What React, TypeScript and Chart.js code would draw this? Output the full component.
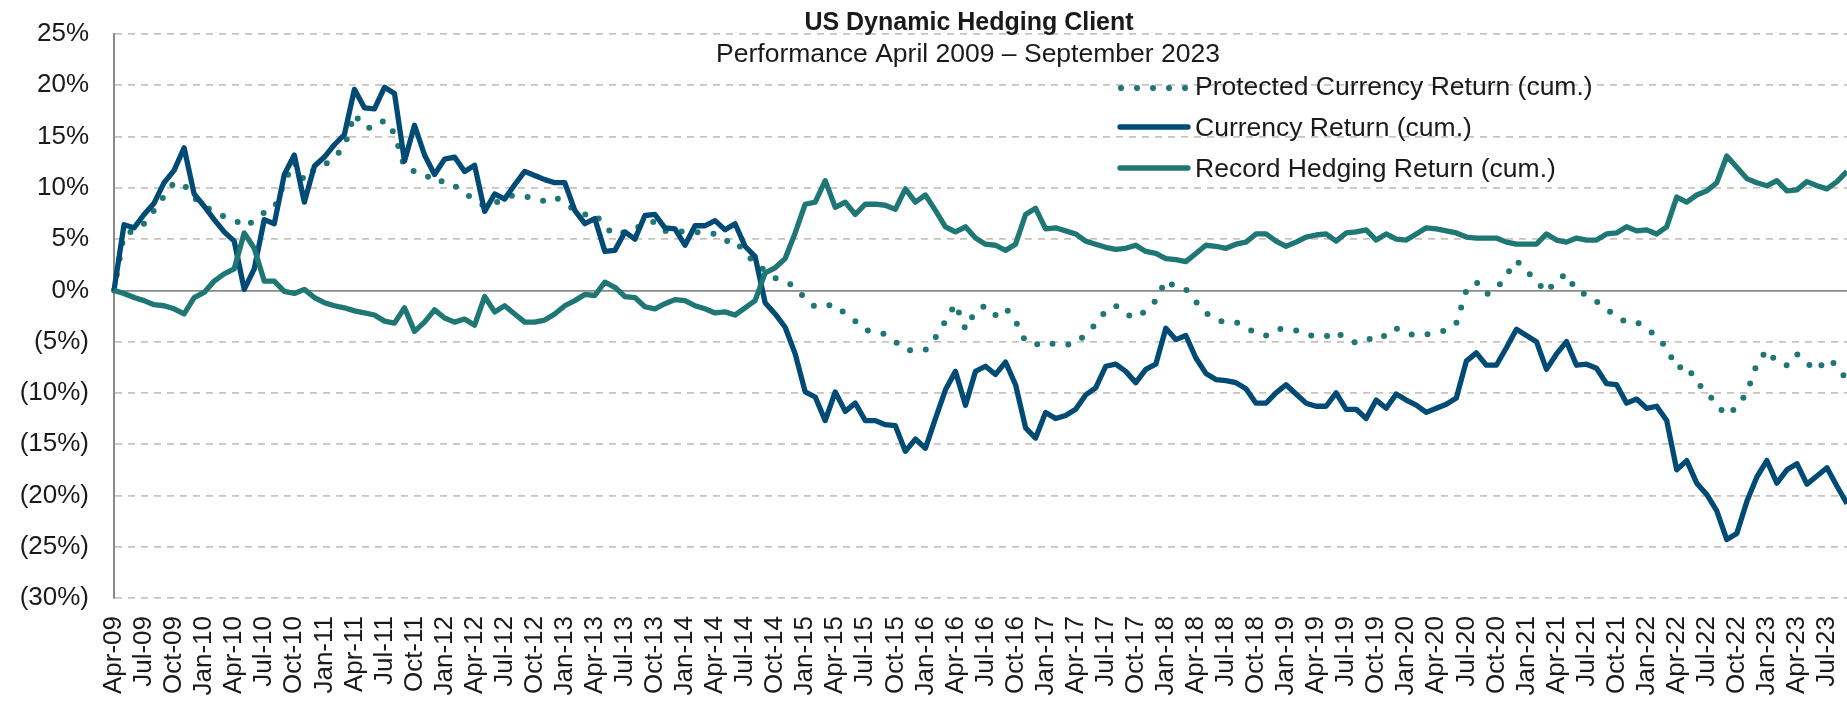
import React, { useEffect, useRef } from 'react';
import { Chart, registerables } from 'chart.js';

Chart.register(...registerables);

const FONT = '"Liberation Sans", Arial, sans-serif';

const TITLE = 'US Dynamic Hedging Client';
const SUBTITLE = 'Performance April 2009 \u2013 September 2023';

const MONTH_NAMES = ['Jan', 'Feb', 'Mar', 'Apr', 'May', 'Jun', 'Jul', 'Aug', 'Sep', 'Oct', 'Nov', 'Dec'];
const FIRST_MONTH = 3; // April
const FIRST_YEAR = 2009;
const MONTH_COUNT = 174; // Apr-09 .. Sep-23

const monthLabels: string[] = [];
for (let k = 0; k < MONTH_COUNT; k++) {
  const m = (FIRST_MONTH + k) % 12;
  const y = FIRST_YEAR + Math.floor((FIRST_MONTH + k) / 12);
  monthLabels.push(`${MONTH_NAMES[m]}-${String(y % 100).padStart(2, '0')}`);
}

const SERIES_NAMES = [
  'Protected Currency Return (cum.)',
  'Currency Return (cum.)',
  'Record Hedging Return (cum.)',
];

// Protected Currency Return (cum.), %
const protectedReturn = [
  0, 5.5, 5.8, 6.5, 7.8, 9.2, 10.5, 10.3, 9.0, 8.3, 7.6, 7.2,
  6.9, 6.2, 6.8, 7.6, 8.0, 10.5, 12.5, 10.7, 11.8, 12.2, 13.0, 14.0,
  17.2, 15.9, 15.8, 16.6, 15.3, 12.0, 11.6, 11.4, 10.5, 10.7, 10.2, 9.5,
  8.8, 8.2, 8.5, 9.0, 9.3, 9.2, 8.9, 8.7, 9.1, 8.6, 7.8, 7.4,
  7.5, 6.2, 5.4, 5.7, 6.0, 6.5, 6.7, 5.8, 5.8, 5.7, 5.7, 5.6,
  5.5, 4.8, 4.9, 3.6, 2.7, 1.9, 1.2, 0.9, 0.3, -0.8, -1.6, -1.5,
  -1.4, -2.3, -3.0, -3.9, -4.0, -4.3, -5.0, -5.8, -5.9, -5.8, -4.6, -3.0,
  -1.3, -3.8, -2.0, -1.5, -2.4, -1.7, -3.0, -5.0, -5.3, -5.0, -5.3, -5.3,
  -5.2, -4.3, -3.3, -2.0, -1.5, -2.3, -2.7, -2.0, -1.0, 1.0, 0.3, 0.1,
  -1.1, -2.2, -2.9, -3.1, -3.1, -3.6, -4.2, -4.4, -3.8, -3.7, -3.9, -4.3,
  -4.5, -4.5, -4.0, -4.8, -5.1, -5.0, -4.3, -4.5, -3.7, -4.2, -4.4, -4.3,
  -4.1, -3.9, -3.2, 0.0, 0.8, -0.4, 0.1, 1.5, 2.9, 1.9, 0.9, -0.2,
  1.0, 1.6, -0.1, -0.4, -1.1, -1.8, -2.6, -3.1, -3.1, -3.7, -4.5, -5.6,
  -7.6, -7.3, -9.0, -9.9, -11.2, -12.2, -11.4, -10.0, -7.2, -5.8, -7.0, -7.3,
  -6.2, -7.1, -7.8, -6.7, -7.3, -8.8,
];

// Currency Return (cum.), %
const currencyReturn = [
  0, 6.4, 6.1, 7.4, 8.5, 10.5, 11.7, 13.9, 9.4, 8.2, 6.9, 5.7,
  4.8, 0.1, 2.1, 6.9, 6.5, 11.3, 13.2, 8.6, 12.1, 13.0, 14.2, 15.2,
  19.6, 17.8, 17.7, 19.8, 19.2, 12.6, 16.1, 13.2, 11.3, 12.8, 13.0, 11.6,
  12.2, 7.7, 9.4, 8.9, 10.3, 11.6, 11.2, 10.8, 10.5, 10.5, 7.8, 6.5,
  7.0, 3.8, 3.9, 5.7, 5.0, 7.3, 7.4, 6.1, 6.0, 4.4, 6.3, 6.3,
  6.8, 5.9, 6.5, 4.3, 3.3, -1.2, -2.3, -3.6, -6.2, -9.9, -10.4, -12.7,
  -9.9, -11.8, -11.0, -12.7, -12.7, -13.1, -13.2, -15.7, -14.5, -15.4, -12.5, -9.7,
  -7.9, -11.2, -7.9, -7.4, -8.2, -7.0, -9.2, -13.4, -14.4, -11.9, -12.5, -12.2,
  -11.6, -10.2, -9.5, -7.4, -7.2, -7.9, -9.0, -7.7, -7.2, -3.7, -4.8, -4.4,
  -6.6, -8.1, -8.7, -8.8, -9.0, -9.6, -11.0, -11.0, -10.0, -9.2, -10.1, -11.0,
  -11.3, -11.3, -10.0, -11.6, -11.6, -12.5, -10.7, -11.5, -10.1, -10.7, -11.2, -11.9,
  -11.5, -11.1, -10.5, -6.9, -6.1, -7.3, -7.3, -5.6, -3.8, -4.4, -5.0, -7.7,
  -6.2, -5.0, -7.3, -7.2, -7.6, -9.1, -9.2, -11.0, -10.6, -11.5, -11.3, -12.7,
  -17.5, -16.6, -18.8, -19.9, -21.5, -24.3, -23.7, -20.6, -18.2, -16.6, -18.8, -17.5,
  -16.9, -18.9, -18.1, -17.3, -19.1, -20.8,
];

// Record Hedging Return (cum.), %
const hedgingReturn = [
  0, -0.3, -0.7, -1.0, -1.4, -1.5, -1.8, -2.3, -0.7, -0.2, 0.9, 1.6,
  2.1, 5.6, 4.1, 0.9, 0.9, -0.1, -0.3, 0.1, -0.7, -1.2, -1.5, -1.7,
  -2.0, -2.2, -2.4, -3.0, -3.2, -1.7, -4.0, -3.1, -1.9, -2.7, -3.1, -2.8,
  -3.4, -0.6, -2.1, -1.5, -2.3, -3.1, -3.1, -2.9, -2.3, -1.5, -1.0, -0.4,
  -0.5, 0.8, 0.3, -0.6, -0.7, -1.6, -1.8, -1.3, -0.9, -1.0, -1.5, -1.8,
  -2.2, -2.1, -2.4, -1.7, -1.0, 1.7, 2.2, 3.1, 5.6, 8.4, 8.6, 10.7,
  8.1, 8.6, 7.4, 8.4, 8.4, 8.3, 7.9, 9.9, 8.6, 9.3, 7.8, 6.2,
  5.7, 6.2, 5.1, 4.5, 4.4, 3.9, 4.5, 7.4, 8.0, 6.0, 6.1, 5.8,
  5.5, 4.8, 4.5, 4.2, 4.0, 4.1, 4.4, 3.8, 3.6, 3.1, 3.0, 2.8,
  3.6, 4.4, 4.3, 4.1, 4.5, 4.7, 5.5, 5.5, 4.8, 4.3, 4.7, 5.2,
  5.4, 5.5, 4.8, 5.6, 5.7, 5.9, 4.9, 5.5, 5.0, 4.9, 5.5, 6.1,
  6.0, 5.8, 5.6, 5.2, 5.1, 5.1, 5.1, 4.7, 4.5, 4.5, 4.5, 5.5,
  4.9, 4.7, 5.1, 4.9, 4.9, 5.5, 5.6, 6.2, 5.8, 5.9, 5.5, 6.2,
  9.1, 8.6, 9.3, 9.7, 10.5, 13.1, 12.0, 10.9, 10.5, 10.2, 10.7, 9.7,
  9.8, 10.6, 10.2, 9.9, 10.6, 11.6,
];

const Y_MIN = -30;
const Y_MAX = 25;
const Y_STEP = 5;

const COLOR_CURRENCY = '#004A76';
const COLOR_TEAL = '#1F7775';
const GRID_COLOR = '#C9C3BB';
const AXIS_COLOR = '#8A8A8A';
const TEXT_COLOR = '#1A1A1A';

const DOT_DASH = [0, 16];
const DOT_WIDTH = 6;
const LINE_WIDTH = 5.3;

const fmtPct = (v: number) => (v < 0 ? `(${Math.abs(v)}%)` : `${v}%`);

const overlayPlugin = {
  id: 'overlayText',
  afterDraw(chart: any) {
    const ctx = chart.ctx as CanvasRenderingContext2D;
    ctx.save();
    ctx.fillStyle = TEXT_COLOR;
    ctx.textBaseline = 'alphabetic';
    ctx.textAlign = 'center';
    ctx.font = `bold 25px ${FONT}`;
    ctx.fillText(TITLE, 969, 30);
    ctx.font = `26.5px ${FONT}`;
    ctx.fillText(SUBTITLE, 968, 62);

    const rows = [
      { y: 88, base: 95, color: COLOR_TEAL, dash: DOT_DASH, width: DOT_WIDTH, x0: 1121 },
      { y: 127, base: 135.5, color: COLOR_CURRENCY, dash: [] as number[], width: LINE_WIDTH, x0: 1120 },
      { y: 168, base: 176.5, color: COLOR_TEAL, dash: [] as number[], width: LINE_WIDTH, x0: 1120 },
    ];
    ctx.textAlign = 'left';
    ctx.font = `26.5px ${FONT}`;
    rows.forEach((r, k) => {
      ctx.save();
      ctx.strokeStyle = r.color;
      ctx.lineWidth = r.width;
      ctx.lineCap = 'round';
      ctx.setLineDash(r.dash);
      ctx.beginPath();
      ctx.moveTo(r.x0, r.y);
      ctx.lineTo(1188, r.y);
      ctx.stroke();
      ctx.restore();
      ctx.fillStyle = TEXT_COLOR;
      ctx.fillText(SERIES_NAMES[k], 1195, r.base);
    });
    ctx.restore();
  },
};

export default function App() {
  const canvasRef = useRef<HTMLCanvasElement | null>(null);

  useEffect(() => {
    document.body.style.margin = '0';
    const canvas = canvasRef.current;
    if (!canvas) return;
    const chart = new Chart(canvas, {
      type: 'line',
      data: {
        labels: monthLabels,
        datasets: [
          {
            label: SERIES_NAMES[0],
            data: protectedReturn,
            borderColor: COLOR_TEAL,
            borderWidth: DOT_WIDTH,
            borderDash: DOT_DASH,
            borderCapStyle: 'round',
            pointRadius: 0,
            tension: 0,
            fill: false,
            order: 3,
          },
          {
            label: SERIES_NAMES[1],
            data: currencyReturn,
            borderColor: COLOR_CURRENCY,
            borderWidth: LINE_WIDTH,
            borderJoinStyle: 'round',
            pointRadius: 0,
            tension: 0,
            fill: false,
            order: 2,
          },
          {
            label: SERIES_NAMES[2],
            data: hedgingReturn,
            borderColor: COLOR_TEAL,
            borderWidth: LINE_WIDTH,
            borderJoinStyle: 'round',
            pointRadius: 0,
            tension: 0,
            fill: false,
            order: 1,
          },
        ],
      },
      options: {
        animation: false,
        responsive: false,
        devicePixelRatio: 1,
        layout: { padding: { top: 34, left: 0, right: 0, bottom: 0 } },
        plugins: {
          legend: { display: false },
          tooltip: { enabled: false },
          title: { display: false },
        },
        scales: {
          x: {
            type: 'category',
            offset: false,
            grid: { display: false, drawTicks: false },
            border: { display: false },
            ticks: {
              autoSkip: false,
              maxRotation: 90,
              minRotation: 90,
              padding: 18,
              color: TEXT_COLOR,
              font: { family: FONT, size: 26 },
              callback: (_v: any, i: number) => (i % 3 === 0 ? monthLabels[i] : ''),
            },
            afterFit: (scale: any) => {
              scale.height = 104;
              scale.paddingLeft = 0;
              scale.paddingRight = 0;
            },
          },
          y: {
            min: Y_MIN,
            max: Y_MAX,
            grid: {
              drawTicks: false,
              lineWidth: 1.7,
              color: (c: any) => (c.tick && c.tick.value === 0 ? AXIS_COLOR : GRID_COLOR),
            },
            border: {
              display: true,
              color: AXIS_COLOR,
              width: 2,
              dash: (c: any) => (c.tick && c.tick.value === 0 ? [] : [7, 6]),
            },
            ticks: {
              stepSize: Y_STEP,
              padding: 25,
              color: TEXT_COLOR,
              font: { family: FONT, size: 26 },
              callback: (v: any) => fmtPct(Number(v)),
            },
            afterFit: (scale: any) => {
              scale.width = 114;
              scale.paddingTop = 0;
              scale.paddingBottom = 0;
            },
          },
        },
      },
      plugins: [overlayPlugin],
    });
    return () => chart.destroy();
  }, []);

  return (
    <div style={{ position: 'absolute', left: 0, top: 0, width: 1847, height: 702, overflow: 'hidden', background: '#fff' }}>
      <canvas ref={canvasRef} width={1847} height={702} style={{ display: 'block' }} />
    </div>
  );
}
